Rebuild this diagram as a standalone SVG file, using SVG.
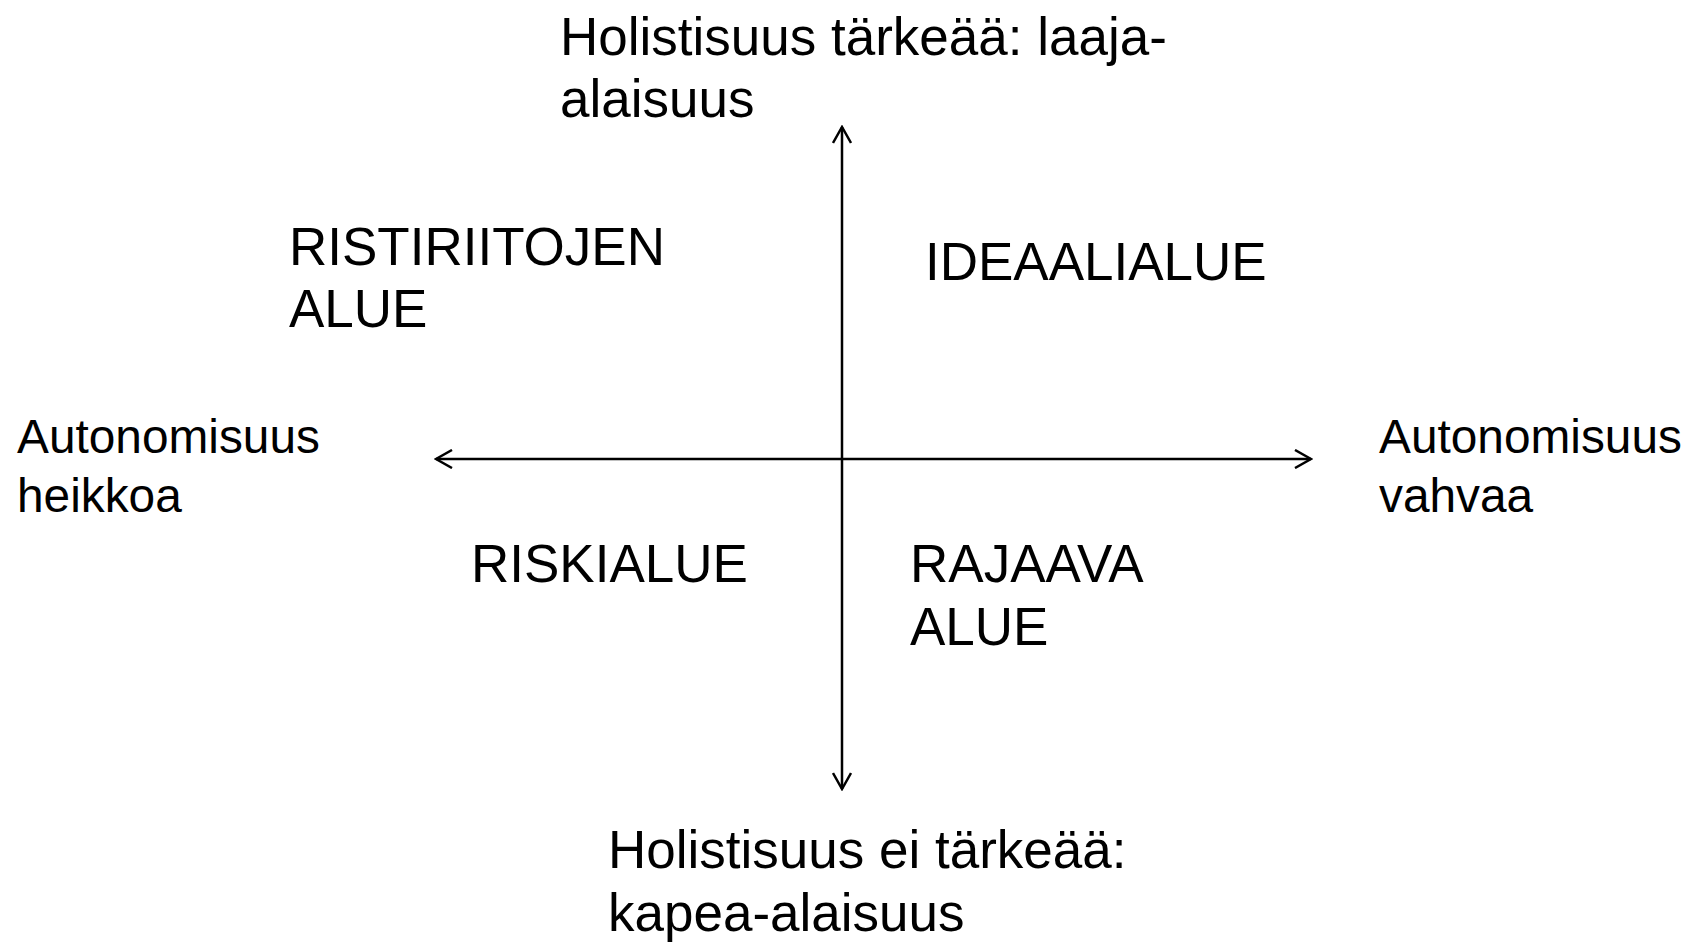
<svg xmlns="http://www.w3.org/2000/svg" width="1693" height="943" viewBox="0 0 1693 943">
<style>
.big{font-family:"Liberation Sans",Arial,sans-serif;font-size:53px;fill:#000}
.mid{font-family:"Liberation Sans",Arial,sans-serif;font-size:47.8px;fill:#000}
.ax{stroke:#000;stroke-width:2.5;fill:none}
</style>
<defs>
<marker id="arr" viewBox="0 0 20 20" refX="18" refY="10" markerWidth="20" markerHeight="20" markerUnits="userSpaceOnUse" orient="auto-start-reverse">
<path d="M2,1 L18,10 L2,19" stroke="#000" stroke-width="2.5" fill="none"/>
</marker>
</defs>
<rect width="1693" height="943" fill="#fff"/>
<g id="connectors">
<line class="ax" x1="842" y1="127" x2="842" y2="789" marker-start="url(#arr)" marker-end="url(#arr)"/>
<line class="ax" x1="436" y1="459" x2="1311" y2="459" marker-start="url(#arr)" marker-end="url(#arr)"/>
</g>
<g id="top-label"><text class="big" x="560" y="55">Holistisuus tärkeää: laaja-</text><text class="big" x="560" y="117">alaisuus</text></g>
<g id="bottom-label"><text class="big" x="608" y="868">Holistisuus ei tärkeää:</text><text class="big" x="608" y="931">kapea-alaisuus</text></g>
<g id="left-label"><text class="mid" x="17" y="453">Autonomisuus</text><text class="mid" x="17" y="512">heikkoa</text></g>
<g id="right-label"><text class="mid" x="1379" y="453">Autonomisuus</text><text class="mid" x="1379" y="512">vahvaa</text></g>
<g id="q-ristiriitojen"><text class="big" x="289" y="265">RISTIRIITOJEN</text><text class="big" x="289" y="327">ALUE</text></g>
<g id="q-ideaali"><text class="big" x="925" y="280">IDEAALIALUE</text></g>
<g id="q-riski"><text class="big" x="471" y="582">RISKIALUE</text></g>
<g id="q-rajaava"><text class="big" x="910" y="582">RAJAAVA</text><text class="big" x="910" y="645">ALUE</text></g>
</svg>
